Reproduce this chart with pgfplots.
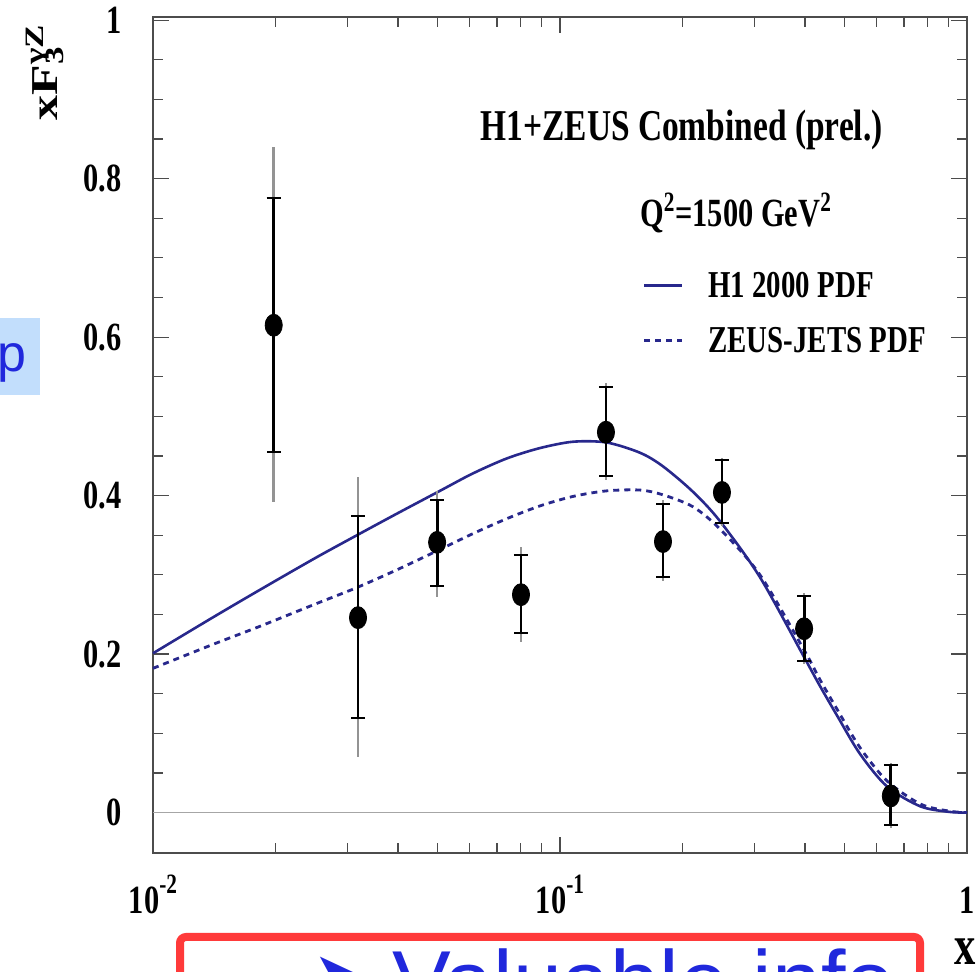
\documentclass[border=0pt]{standalone}
\usepackage{fontspec}
\setmainfont{Liberation Serif}[FakeStretch=0.76]
\setsansfont{Liberation Sans}
\newfontfamily\ylabfont{Liberation Serif}
\newfontfamily\symfont{DejaVu Sans}
\usepackage{pgfplots}
\usepackage{pgfplotstable}
\pgfplotsset{compat=1.18}
\definecolor{curve}{RGB}{40,40,140}
\definecolor{boxblue}{RGB}{194,222,252}
\definecolor{txtblue}{RGB}{32,40,220}
\definecolor{boxred}{RGB}{255,58,58}
\newcommand\sups[1]{\raisebox{1.05ex}{\fontsize{14}{14}\selectfont #1}}

\pgfplotstableread{
x y ip im op om
0.0198 0.615 0.160 0.160 0.225 0.223
0.0319 0.246 0.128 0.127 0.177 0.176
0.0499 0.341 0.053 0.055 0.065 0.069
0.0802 0.275 0.050 0.049 0.060 0.060
0.1297 0.480 0.057 0.055 0.062 0.060
0.1791 0.342 0.048 0.045 0.052 0.050
0.250 0.404 0.041 0.039 0.044 0.042
0.398 0.232 0.041 0.041 0.045 0.045
0.650 0.021 0.039 0.037 0.042 0.040
}\data

\pgfplotstableread{
x y
0.0100 0.201
0.0140 0.246
0.0183 0.281
0.0250 0.321
0.0317 0.350
0.0400 0.378
0.0507 0.406
0.0611 0.428
0.0741 0.447
0.0893 0.460
0.1077 0.468
0.1303 0.467
0.1574 0.454
0.179 0.437
0.212 0.405
0.247 0.368
0.310 0.297
0.400 0.194
0.435 0.160
0.480 0.122
0.546 0.074
0.636 0.033
0.767 0.008
0.90 0.001
1.00 0.000
}\hone

\pgfplotstableread{
x y
0.0100 0.182
0.0140 0.212
0.0183 0.235
0.0250 0.263
0.0317 0.284
0.0400 0.307
0.0507 0.332
0.0611 0.352
0.0741 0.371
0.0893 0.387
0.1077 0.399
0.1303 0.406
0.1574 0.407
0.179 0.401
0.212 0.386
0.247 0.358
0.310 0.300
0.400 0.203
0.435 0.168
0.480 0.130
0.546 0.082
0.636 0.040
0.767 0.011
0.90 0.002
1.00 0.000
}\zeus

\begin{document}
\begin{tikzpicture}
\useasboundingbox (-76.5pt,-59.5pt) rectangle (412.5pt,426.5pt);
\begin{axis}[
  xmode=log,
  scale only axis,
  width=407pt, height=418pt,
  xmin=0.01, xmax=1,
  ymin=-0.051, ymax=1.004,
  xtick={0.01,0.1,1},
  xticklabels={10\sups{-2}, 10\sups{-1}, \vphantom{\sups{-2}}1},
  ytick={0,0.2,0.4,0.6,0.8,1},
  minor y tick num=3,
  /pgf/number format/assume math mode=true,
  tick align=inside,
  major tick length=8pt,
  minor tick length=5pt,
  axis line style={line width=1pt, black!70},
  every tick/.style={black!70, line width=0.6pt},
  yticklabel style={font=\bfseries\fontsize{20}{20}\selectfont, inner sep=0pt, anchor=east, xshift=-15.5pt},
  xticklabel style={font=\bfseries\fontsize{20}{20}\selectfont, inner sep=0pt, anchor=north, yshift=-11pt},
  xlabel={x},
  xlabel style={font=\bfseries\fontsize{28}{28}\selectfont, at={(axis description cs:0.9975,-0.118)}, anchor=center, inner sep=0pt},
  ylabel={\scalebox{1}[0.76]{\ylabfont\bfseries\fontsize{25}{25}\selectfont xF\rlap{\textsubscript{3}}\textsuperscript{γZ}}},
  ylabel style={at={(axis description cs:-0.1327,0.934)}, anchor=center, inner sep=0pt},
  legend style={at={(axis description cs:0.601,0.6944)}, anchor=north west, draw=none, fill=none, inner sep=0pt,
    row sep=15pt, column sep=12.5pt,
    nodes={inner sep=0pt, text height=12.5pt, text depth=0pt, font=\bfseries\fontsize{19}{19}\selectfont},
    cells={anchor=west}},
  legend image code/.code={\draw[#1] (0pt,0pt) -- (19pt,0pt);},
  clip=false,
]
\addplot[gray!70, line width=0.6pt, forget plot] coordinates {(0.01,0) (1,0)};
\addplot[curve, line width=1.3pt, smooth] table[x=x,y=y] {\hone};
\addlegendentry{H1 2000 PDF}
\addplot[curve, line width=1.4pt, smooth, dash pattern=on 3pt off 2.5pt] table[x=x,y=y] {\zeus};
\addlegendentry{ZEUS-JETS PDF}
\addplot[only marks, mark=none, forget plot,
  error bars/.cd, y dir=both, y explicit, error mark=none,
  error bar style={line width=1.3pt, color=gray!85}]
  table[x=x, y=y, y error plus=op, y error minus=om] {\data};
\addplot[only marks, mark=none, forget plot,
  error bars/.cd, y dir=both, y explicit, error mark=-,
  error bar style={line width=1.4pt, color=black},
  error mark options={rotate=90, black, line width=1pt, mark size=3.5pt}]
  table[x=x, y=y, y error plus=ip, y error minus=im] {\data};
\addplot[only marks, mark=*, mark size=5.5pt, mark options={black, fill=black, xscale=0.78}, forget plot]
  table[x=x, y=y] {\data};
\node[anchor=west, inner sep=0pt, font=\bfseries\fontsize{22}{22}\selectfont] at (axis description cs:0.402,0.865) {H1+ZEUS Combined (prel.)};
\node[anchor=west, inner sep=0pt, font=\bfseries\fontsize{20}{20}\selectfont] at (axis description cs:0.598,0.766) {Q\textsuperscript{2}=1500 GeV\textsuperscript{2}};
\end{axis}
\fill[boxblue] (-76.5pt,229pt) rectangle (-56.5pt,267.5pt);
\node[anchor=base west, inner sep=0pt, text=txtblue, font=\sffamily\fontsize{26}{26}\selectfont] at (-78pt,240.5pt) {p};
\draw[boxred, line width=4pt, rounded corners=3pt] (13.5pt,-42pt) rectangle (383.5pt,-100pt);
\node[anchor=base east, inner sep=0pt, text=txtblue, font=\symfont\fontsize{44}{44}\selectfont] at (116pt,-79.5pt) {➤};
\node[anchor=base west, inner sep=0pt, text=txtblue, font=\sffamily\fontsize{44}{44}\selectfont] at (119.5pt,-79.5pt) {Valuable info};
\end{tikzpicture}
\end{document}
